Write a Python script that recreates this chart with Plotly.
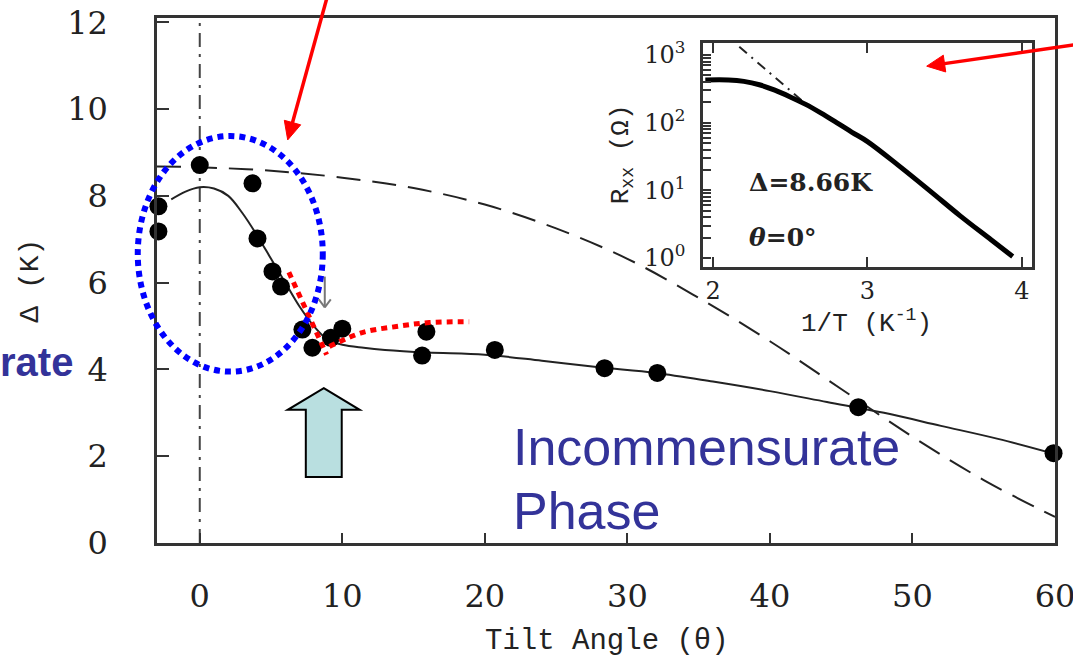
import math
import plotly.graph_objects as go

# ---------------- data ----------------
point_theta = [-2.9, -2.9, 0.0, 3.7, 4.05, 5.1, 5.7, 7.2, 7.9, 9.2, 10.0,
               15.6, 15.9, 20.7, 28.4, 32.1, 46.2, 59.9]
point_gap = [7.76, 7.18, 8.71, 8.29, 7.02, 6.26, 5.91, 4.92, 4.50, 4.73, 4.94,
             4.32, 4.87, 4.45, 4.03, 3.92, 3.13, 2.07]

fit_theta = [-2.0, -1.0, 0.0, 1.0, 2.0, 3.0, 4.0, 5.0, 6.0, 7.0, 8.0, 9.0,
             10.0, 11.5, 13.0, 16.0, 20.0, 24.0, 28.0, 32.0, 36.0, 40.0,
             44.0, 48.0, 52.0, 56.0, 60.0]
fit_gap = [7.92, 8.10, 8.20, 8.17, 8.00, 7.60, 7.10, 6.55, 6.00, 5.45, 5.00,
           4.68, 4.57, 4.50, 4.45, 4.39, 4.34, 4.20, 4.05, 3.92, 3.72, 3.50,
           3.25, 3.00, 2.70, 2.40, 2.05]

theory_theta = [-3.0, 0.0, 5.0, 10.0, 15.0, 20.0, 25.0, 30.0, 35.0, 40.0,
                45.0, 50.0, 55.0, 60.0]
theory_gap = [8.68, 8.66, 8.58, 8.42, 8.18, 7.80, 7.25, 6.55, 5.65, 4.65,
              3.55, 2.45, 1.45, 0.60]

red_a_theta = [6.25, 8.9]
red_a_gap = [6.24, 4.34]
red_b_theta = [9.1, 11.4, 13.8, 16.1, 18.9]
red_b_gap = [4.53, 4.85, 4.99, 5.08, 5.10]

inset_invT = [1.95, 2.10, 2.20, 2.30, 2.40, 2.50, 2.60, 2.70, 2.80, 2.90,
              3.00, 3.20, 3.40, 3.60, 3.80, 3.94]
inset_R = [427, 427, 407, 363, 302, 240, 186, 138, 100, 72,
           52.5, 23.4, 10.0, 4.2, 1.86, 1.05]
inset_fit_invT = [2.17, 2.60]
inset_fit_R = [1320, 190]

x_ticks = [0, 10, 20, 30, 40, 50, 60]
y_ticks = [0, 2, 4, 6, 8, 10, 12]
inset_x_ticks = [2, 3, 4]
inset_y_ticks = [1, 10, 100, 1000]
inset_y_labels = ["10<sup>0</sup>", "10<sup>1</sup>", "10<sup>2</sup>", "10<sup>3</sup>"]

X_RANGE = [-3.0, 60.0]
Y_RANGE = [0.0, 12.1]

W, H = 1073, 659
ML, MR, MT, MB = 157, 18, 18, 116
PLOT_W, PLOT_H = W - ML - MR, H - MT - MB


def px_(v):
    return (v - X_RANGE[0]) / (X_RANGE[1] - X_RANGE[0])


def py_(v):
    return (v - Y_RANGE[0]) / (Y_RANGE[1] - Y_RANGE[0])


INK = "#222222"
BLUE_TXT = "#333399"

fig = go.Figure()

# theory (dashed) curve
fig.add_trace(go.Scatter(x=theory_theta, y=theory_gap, mode="lines",
                         line=dict(color=INK, width=2, dash="24px,12px", shape="spline"),
                         hoverinfo="skip"))
# vertical dash-dot line at 0
fig.add_trace(go.Scatter(x=[0, 0], y=[Y_RANGE[0], Y_RANGE[1]], mode="lines",
                         line=dict(color="#444444", width=2, dash="14px,7px,3px,7px")))
# guide-to-eye solid line
fig.add_trace(go.Scatter(x=fit_theta, y=fit_gap, mode="lines",
                         line=dict(color=INK, width=2, shape="spline")))
# data points
fig.add_trace(go.Scatter(x=point_theta, y=point_gap, mode="markers",
                         marker=dict(color="black", size=18), cliponaxis=False))
# red dotted guides
fig.add_trace(go.Scatter(x=red_a_theta, y=red_a_gap, mode="lines",
                         line=dict(color="red", width=5, dash="6px,5px")))
fig.add_trace(go.Scatter(x=red_b_theta, y=red_b_gap, mode="lines",
                         line=dict(color="red", width=5, dash="6px,5px", shape="spline")))

# inset
fig.add_trace(go.Scatter(x=inset_fit_invT, y=inset_fit_R, mode="lines", xaxis="x2", yaxis="y2",
                         line=dict(color=INK, width=2, dash="10px,6px,2px,6px")))
fig.add_trace(go.Scatter(x=inset_invT, y=inset_R, mode="lines", xaxis="x2", yaxis="y2",
                         line=dict(color="black", width=5, shape="spline")))

# minor log ticks for inset
inset_minor = [d * m for d in [1, 10, 100] for m in range(2, 10)]

axis_common = dict(showline=True, linecolor="#333333", linewidth=2.5, mirror=True,
                   ticks="inside", tickcolor="#333333", tickwidth=2,
                   showgrid=False, zeroline=False, ticklabeloverflow="allow",
                   automargin=False)

fig.update_layout(
    width=W, height=H, autosize=False,
    margin=dict(l=ML, r=MR, t=MT, b=MB),
    paper_bgcolor="white", plot_bgcolor="white",
    showlegend=False,
    xaxis=dict(range=X_RANGE, tickvals=x_ticks, ticklen=10,
               tickfont=dict(family="DejaVu Serif", size=32, color=INK),
               ticklabelstandoff=23, **axis_common),
    yaxis=dict(range=Y_RANGE, tickvals=y_ticks, ticklen=12,
               tickfont=dict(family="DejaVu Serif", size=32, color=INK),
               ticklabelstandoff=40, **axis_common),
    xaxis2=dict(domain=[0.608, 0.9744], anchor="y2", range=[1.935, 4.065],
                tickvals=inset_x_ticks, ticklen=10,
                tickfont=dict(family="DejaVu Serif", size=24, color=INK),
                showline=True, linecolor="#333333", linewidth=2.5, mirror="ticks",
                ticks="inside", tickcolor="#333333", tickwidth=2,
                showgrid=False, zeroline=False, automargin=False),
    yaxis2=dict(domain=[0.5257, 0.9524], anchor="x2", type="log",
                range=[-0.133, 3.177], tickvals=inset_y_ticks, ticktext=inset_y_labels,
                ticklen=8, ticklabelstandoff=10,
                minor=dict(tickmode="array", tickvals=inset_minor, ticks="inside",
                           ticklen=8, tickwidth=2, tickcolor="#333333", showgrid=False),
                tickfont=dict(family="DejaVu Serif", size=24, color=INK),
                **axis_common),
)

shapes = []
# blue dotted ellipse (partly outside plot area -> paper coords)
shapes.append(dict(type="circle", xref="paper", yref="paper",
                   x0=px_(-4.35), x1=px_(8.63), y0=py_(3.95), y1=py_(9.38),
                   line=dict(color="#0000FF", width=6, dash="6px,5px"), layer="above"))
# light blue block arrow
ax_ = [8.70, 11.22, 9.96, 9.96, 7.44, 7.44, 6.17]
ay_ = [3.57, 3.07, 3.07, 1.52, 1.52, 3.07, 3.07]
path = "M " + " L ".join(f"{a},{b}" for a, b in zip(ax_, ay_)) + " Z"
shapes.append(dict(type="path", xref="x", yref="y", path=path,
                   fillcolor="#B9DFE0", line=dict(color="black", width=2), layer="above"))


def arrow(xt, yt, xh, yh, color, width, head_len, head_half, filled=True):
    """Arrow from tail (xt, yt) to head (xh, yh), both in main-axis data units."""
    Xt, Yt = px_(xt) * PLOT_W, py_(yt) * PLOT_H
    Xh, Yh = px_(xh) * PLOT_W, py_(yh) * PLOT_H
    L = math.hypot(Xh - Xt, Yh - Yt)
    ux, uy = (Xh - Xt) / L, (Yh - Yt) / L
    nx, ny = -uy, ux
    bx, by = Xh - ux * head_len, Yh - uy * head_len

    def P(X, Y):
        return X / PLOT_W, Y / PLOT_H

    out = []
    if filled:
        x0, y0 = P(Xt, Yt)
        x1, y1 = P(bx + ux * 2, by + uy * 2)
        out.append(dict(type="line", xref="paper", yref="paper", x0=x0, y0=y0, x1=x1, y1=y1,
                        line=dict(color=color, width=width), layer="above"))
        pts = [P(Xh, Yh), P(bx + nx * head_half, by + ny * head_half),
               P(bx - nx * head_half, by - ny * head_half)]
        pth = "M " + " L ".join(f"{a:.5f},{b:.5f}" for a, b in pts) + " Z"
        out.append(dict(type="path", xref="paper", yref="paper", path=pth,
                        fillcolor=color, line=dict(color=color, width=1), layer="above"))
    else:
        x0, y0 = P(Xt, Yt)
        x1, y1 = P(Xh, Yh)
        out.append(dict(type="line", xref="paper", yref="paper", x0=x0, y0=y0, x1=x1, y1=y1,
                        line=dict(color=color, width=width), layer="above"))
        for s in (1, -1):
            xa, ya = P(bx + s * nx * head_half, by + s * ny * head_half)
            out.append(dict(type="line", xref="paper", yref="paper", x0=xa, y0=ya,
                            x1=x1, y1=y1, line=dict(color=color, width=width),
                            layer="above"))
    return out


# small gray arrow
shapes += arrow(8.77, 6.14, 8.77, 5.43, "#777777", 2, 8, 6, filled=False)
# red pointer arrows
shapes += arrow(8.91, 12.55, 6.17, 9.29, "#FF0000", 3.5, 18, 8.5)
shapes += arrow(61.3, 11.48, 51.0, 10.99, "#FF0000", 3.5, 18, 8.5)
fig.update_layout(shapes=shapes)


def label(text, x, y, size, family, **kw):
    d = dict(text=text, xref="paper", yref="paper", x=x, y=y, showarrow=False,
             xanchor="center", yanchor="middle",
             font=dict(family=family, size=size, color=kw.pop("color", INK)))
    d.update(kw)
    return d


ann = []
# axis titles
ann.append(label("Tilt Angle (θ)", px_(28.6), py_(-2.26), 29, "Liberation Mono"))
ann.append(label("Δ (K)", px_(-11.9), py_(6.05), 28, "Liberation Mono", textangle=-90))
# inset titles
ann.append(label("1/T (K<sup>-1</sup>)", px_(46.8), py_(5.1), 26, "Liberation Mono"))
ann.append(label("R<sub>xx</sub> (Ω)", px_(29.6), py_(8.95), 26, "Liberation Mono",
                 textangle=-90))
ann.append(dict(text="<b>Δ=8.66K</b>", xref="x2", yref="y2", x=2.22, y=1.11,
                xanchor="left", yanchor="middle", showarrow=False,
                font=dict(family="DejaVu Serif", size=25, color=INK)))
ann.append(dict(text="<b><i>θ</i>=0°</b>", xref="x2", yref="y2", x=2.22, y=0.31,
                xanchor="left", yanchor="middle", showarrow=False,
                font=dict(family="DejaVu Serif", size=25, color=INK)))
# blue labels
ann.append(label("<b>rate</b>", px_(-8.77), py_(4.17), 40, "Liberation Sans",
                 color=BLUE_TXT, xanchor="right"))
ann.append(dict(text="Incommensurate", xref="x", yref="y", x=21.8, y=2.22,
                xanchor="left", yanchor="middle", showarrow=False,
                font=dict(family="Liberation Sans", size=52, color=BLUE_TXT)))
ann.append(dict(text="Phase", xref="x", yref="y", x=21.8, y=0.74,
                xanchor="left", yanchor="middle", showarrow=False,
                font=dict(family="Liberation Sans", size=52, color=BLUE_TXT)))
fig.update_layout(annotations=ann)

# remove the default 8px page margin so the figure sits at the window's top-left corner
fig.write_html("out.html", config={"displayModeBar": False},
               post_script="document.body.style.margin='0';document.body.style.overflow='hidden';")
